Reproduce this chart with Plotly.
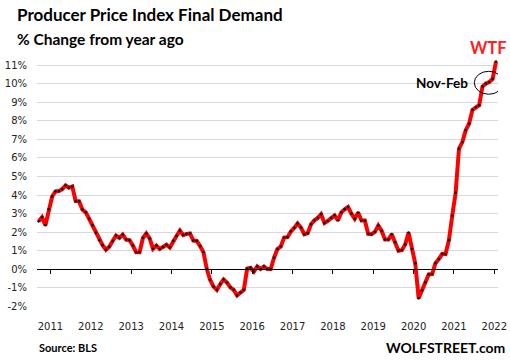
import plotly.graph_objects as go
import pandas as pd

# ---- data ----
months = [d.strftime("%b %Y") for d in pd.date_range("2010-11-01", "2022-03-01", freq="MS")]
ppi_yoy = [
    2.58, 2.80, 2.37, 3.23, 3.92, 4.19, 4.21, 4.32, 4.52, 4.39, 4.46, 3.67,
    3.66, 3.21, 3.06, 2.72, 2.37, 1.95, 1.56, 1.29, 1.04, 1.20, 1.51, 1.81,
    1.68, 1.86, 1.59, 1.56, 1.27, 0.91, 0.91, 1.68, 1.92, 1.65, 1.09, 1.27,
    1.08, 1.18, 1.31, 1.16, 1.52, 1.79, 2.08, 1.83, 1.90, 1.92, 1.54, 1.52,
    1.24, 0.91, 0.00, -0.59, -0.95, -1.13, -0.81, -0.56, -0.73, -0.99, -1.13, -1.43,
    -1.27, -1.13, 0.02, 0.07, -0.14, 0.14, 0.00, 0.14, 0.00, 0.00, 0.61, 1.08,
    1.22, 1.70, 1.72, 2.03, 2.22, 2.46, 2.24, 1.88, 1.94, 2.42, 2.63, 2.76,
    2.96, 2.49, 2.60, 2.76, 2.90, 2.63, 3.06, 3.23, 3.35, 2.99, 2.71, 3.05,
    2.62, 2.62, 1.90, 1.88, 2.01, 2.35, 2.06, 1.59, 1.59, 1.88, 1.45, 0.99,
    1.02, 1.33, 1.97, 1.08, 0.30, -1.58, -1.15, -0.72, -0.29, -0.27, 0.32, 0.54,
    0.82, 0.81, 1.56, 2.89, 4.12, 6.50, 6.86, 7.50, 7.85, 8.60, 8.75, 8.85,
    9.86, 10.02, 10.10, 10.27, 11.20,
]
year_labels = ["2011", "2012", "2013", "2014", "2015", "2016",
               "2017", "2018", "2019", "2020", "2021", "2022"]
y_ticks = list(range(-2, 12))
y_tick_text = [f"{v}%" for v in y_ticks]
highlight_months = ["Nov 2021", "Dec 2021", "Jan 2022", "Feb 2022"]

# ---- layout geometry ----
W, H = 510, 364
ML, MR, MT, MB = 37, 12, 58, 57
YMIN, YMAX = -2.05, 11.4
XMIN, XMAX = -0.5, 136.6

x = list(range(len(ppi_yoy)))
tick_pos = [3.5 + 12 * i for i in range(len(year_labels))]

fig = go.Figure()
fig.add_trace(go.Scatter(
    x=x, y=ppi_yoy, text=months, mode="lines+markers",
    line=dict(color="#FF0000", width=4),
    marker=dict(color="#1a1a1a", size=2.8),
    hovertemplate="%{text}: %{y:.1f}%<extra></extra>",
    xaxis="x", yaxis="y",
))
# invisible trace to activate the zero-line axis
fig.add_trace(go.Scatter(x=[x[0]], y=[ppi_yoy[0]], xaxis="x2", yaxis="y",
                         mode="markers", marker=dict(opacity=0), hoverinfo="skip",
                         showlegend=False))

plot_h = H - MT - MB
zero_pos = (0 - YMIN) / (YMAX - YMIN)

# Nov-Feb ellipse built from the data
idx = [months.index(m) for m in highlight_months]
cx = sum(idx) / len(idx) + 0.35
cy = sum(ppi_yoy[i] for i in idx) / len(idx)

fig.add_shape(type="circle", xref="x", yref="y",
              x0=cx - 4.3, x1=cx + 4.3, y0=cy - 0.62, y1=cy + 0.62,
              line=dict(color="black", width=1))

fig.add_annotation(x=cx - 4.3, y=cy, xref="x", yref="y", text="<b>Nov-Feb</b>",
                   showarrow=False, xanchor="right", yanchor="middle", xshift=-4,
                   font=dict(family="Lato", size=13.5, color="black"))
fig.add_annotation(x=x[-1], y=ppi_yoy[-1], xref="x", yref="y", text="<b>WTF</b>",
                   showarrow=False, xanchor="center", yanchor="middle",
                   xshift=-7, yshift=14,
                   font=dict(family="Lato", size=16.5, color="#FF1F1F"))

# titles and footer
def px_x(p):
    return (p - ML) / (W - ML - MR)

def px_y(p):
    return (H - MB - p) / plot_h

fig.add_annotation(x=px_x(15), y=px_y(14), xref="paper", yref="paper",
                   text="<b>Producer Price Index Final Demand</b>", showarrow=False,
                   xanchor="left", yanchor="middle",
                   font=dict(family="Lato", size=17, color="black"))
fig.add_annotation(x=px_x(15), y=px_y(39), xref="paper", yref="paper",
                   text="<b>% Change from year ago</b>", showarrow=False,
                   xanchor="left", yanchor="middle",
                   font=dict(family="Lato", size=15.5, color="black"))
fig.add_annotation(x=px_x(37), y=px_y(347), xref="paper", yref="paper",
                   text="<b>Source: BLS</b>", showarrow=False,
                   xanchor="left", yanchor="middle",
                   font=dict(family="Lato", size=11, color="black"))
fig.add_annotation(x=px_x(507), y=px_y(347), xref="paper", yref="paper",
                   text="<b>WOLFSTREET.com</b>", showarrow=False,
                   xanchor="right", yanchor="middle",
                   font=dict(family="Lato", size=14, color="black"))

fig.update_layout(
    width=W, height=H,
    margin=dict(l=ML, r=MR, t=MT, b=MB, pad=0, autoexpand=False),
    paper_bgcolor="white", plot_bgcolor="white",
    showlegend=False,
    font=dict(family="DejaVu Sans", size=10, color="#222222"),
    xaxis=dict(range=[XMIN, XMAX], tickvals=tick_pos, ticktext=year_labels,
               showgrid=False, zeroline=False, showline=False, ticks="",
               ticklabelstandoff=12, fixedrange=True, automargin=False,
               tickfont=dict(family="DejaVu Sans", size=10, color="#222222")),
    xaxis2=dict(range=[XMIN, XMAX], matches="x", overlaying="x", anchor="free",
                position=zero_pos, tickvals=tick_pos, showticklabels=False,
                showgrid=False, zeroline=False, showline=True, linecolor="black",
                linewidth=1, ticks="outside", ticklen=4, tickcolor="black",
                tickwidth=1, automargin=False),
    yaxis=dict(range=[YMIN, YMAX], tickvals=y_ticks, ticktext=y_tick_text,
               showgrid=True, gridcolor="#D9D9D9", gridwidth=1,
               zeroline=False, showline=False, ticks="", ticklabelstandoff=9,
               fixedrange=True, automargin=False,
               tickfont=dict(family="DejaVu Sans", size=10, color="#222222")),
)

fig.write_html("out.html", config={"displayModeBar": False},
               post_script="document.body.style.margin='0';document.body.style.overflow='hidden';")
